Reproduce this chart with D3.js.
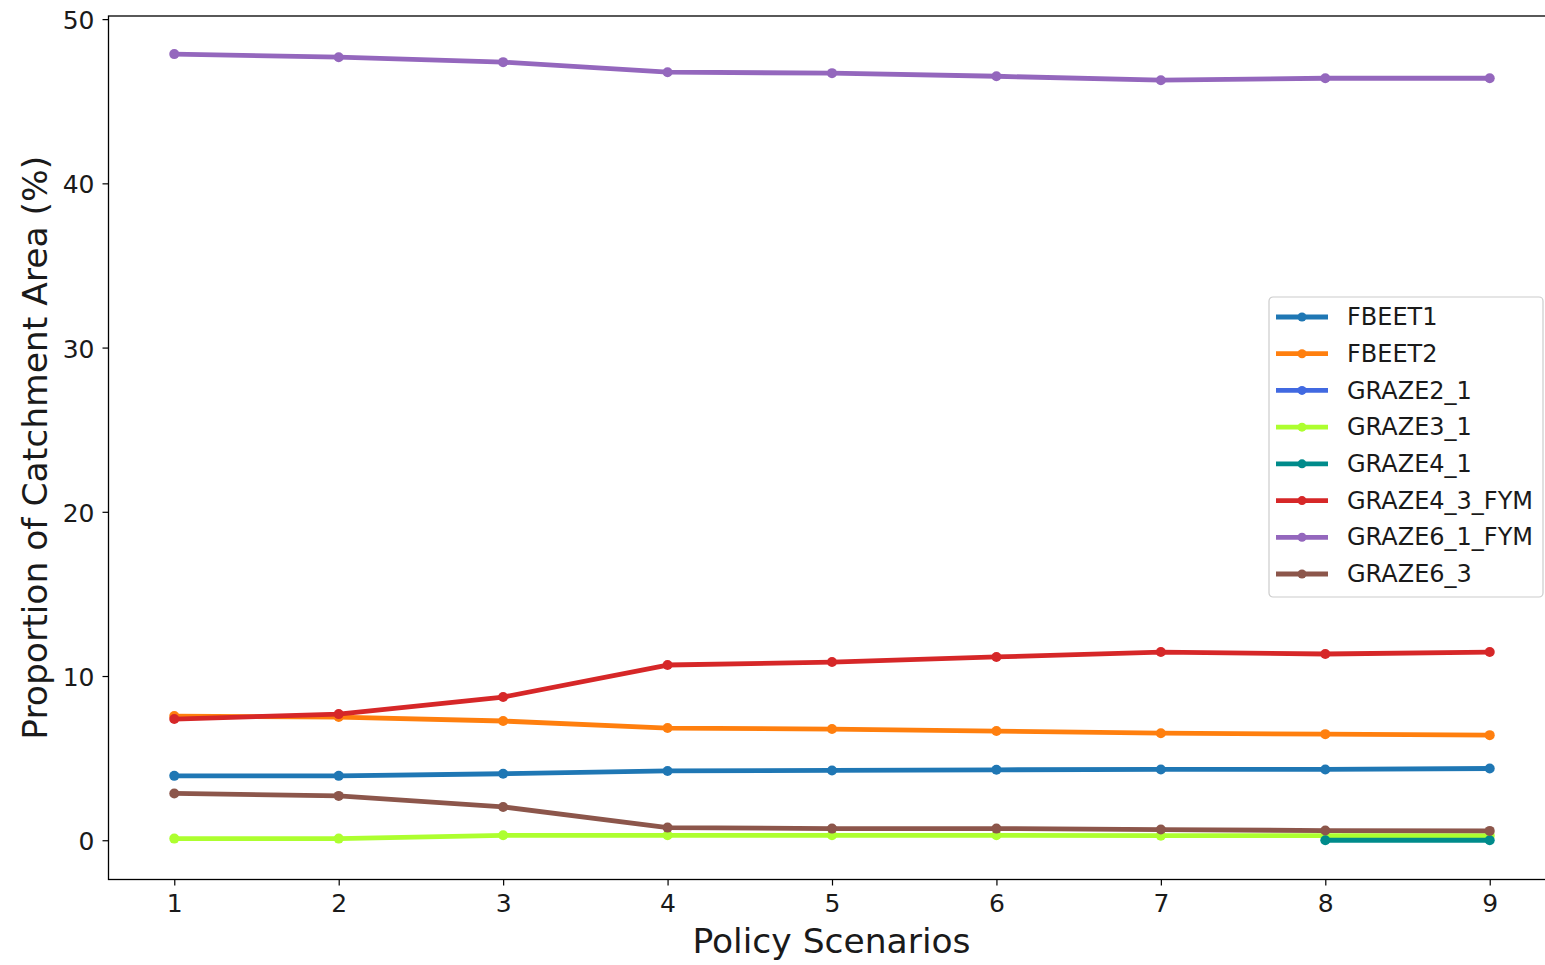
<!DOCTYPE html>
<html>
<head>
<meta charset="utf-8">
<script src="https://cdn.jsdelivr.net/npm/d3@7"></script>
<style>
  html, body { margin: 0; padding: 0; background: #fff; }
  svg { display: block; font-family: "DejaVu Sans", sans-serif; }
</style>
</head>
<body>
<svg id="chart" width="1545" height="965"></svg>
<script>
// Policy scenarios on the x axis
const scenarios = [1, 2, 3, 4, 5, 6, 7, 8, 9];
const xTicks = [1, 2, 3, 4, 5, 6, 7, 8, 9];
const yTicks = [0, 10, 20, 30, 40, 50];

// Share of catchment area (%) per land-use option, one value per scenario
const seriesNames = ["FBEET1", "FBEET2", "GRAZE2_1", "GRAZE3_1", "GRAZE4_1",
                     "GRAZE4_3_FYM", "GRAZE6_1_FYM", "GRAZE6_3"];
const fbeet1      = [3.92, 3.92, 4.05, 4.22, 4.25, 4.29, 4.31, 4.31, 4.37];
const fbeet2      = [7.56, 7.50, 7.26, 6.83, 6.77, 6.65, 6.52, 6.46, 6.40];
const graze2_1    = [null, null, null, null, null, null, null, null, null];
const graze3_1    = [0.10, 0.10, 0.30, 0.30, 0.30, 0.30, 0.28, 0.28, 0.28];
const graze4_1    = [null, null, null, null, null, null, null, 0.0, 0.0];
const graze4_3fym = [7.38, 7.68, 8.72, 10.67, 10.85, 11.16, 11.46, 11.34, 11.46];
const graze6_1fym = [47.87, 47.68, 47.38, 46.77, 46.71, 46.52, 46.28, 46.40, 46.40];
const graze6_3    = [2.85, 2.70, 2.03, 0.77, 0.71, 0.71, 0.65, 0.59, 0.57];

const seriesValues = [fbeet1, fbeet2, graze2_1, graze3_1, graze4_1,
                      graze4_3fym, graze6_1fym, graze6_3];
const seriesColors = ["#1f77b4", "#ff7f0e", "#4169e1", "#adff2f", "#008b8b",
                      "#d62728", "#9467bd", "#8c564b"];

const svg = d3.select("#chart");

// Plot area (the right edge of the frame runs past the page edge)
const plot = { left: 108.5, right: 1555.5, top: 16, bottom: 879.5 };

const x = d3.scaleLinear().domain([0.6, 9.4]).range([plot.left, plot.right]);
const y = d3.scaleLinear().domain([-2.39, 50.19]).range([plot.bottom, plot.top]);

// Axes
const xAxis = d3.axisBottom(x).tickValues(xTicks).tickFormat(d3.format("d"))
  .tickSize(6).tickPadding(6);
const yAxis = d3.axisLeft(y).tickValues(yTicks).tickFormat(d3.format("d"))
  .tickSize(6).tickPadding(8);

const gx = svg.append("g").attr("transform", `translate(0,${plot.bottom})`).call(xAxis);
const gy = svg.append("g").attr("transform", `translate(${plot.left},0)`).call(yAxis);
[gx, gy].forEach(g => {
  g.select(".domain").remove();
  g.selectAll(".tick line").attr("stroke", "#000").attr("stroke-width", 1.2);
  g.selectAll(".tick text").attr("fill", "#1a1a1a").attr("font-size", 25)
    .attr("font-family", "DejaVu Sans, sans-serif");
});
gx.selectAll(".tick text").attr("dy", "0.8em");
gy.selectAll(".tick text").attr("dy", "0.38em");

// Frame
svg.append("rect")
  .attr("x", plot.left).attr("y", plot.top)
  .attr("width", plot.right - plot.left).attr("height", plot.bottom - plot.top)
  .attr("fill", "none").attr("stroke", "#000").attr("stroke-width", 1.3);

// Series lines with markers
const line = d3.line()
  .defined(d => d.v !== null)
  .x(d => x(d.s))
  .y(d => y(d.v));

seriesNames.forEach((name, i) => {
  const pts = scenarios.map((s, j) => ({ s, v: seriesValues[i][j] }));
  const g = svg.append("g").attr("class", "series");
  g.append("path")
    .datum(pts)
    .attr("d", line)
    .attr("fill", "none")
    .attr("stroke", seriesColors[i])
    .attr("stroke-width", 4.8)
    .attr("stroke-linejoin", "round")
    .attr("stroke-linecap", "butt");
  g.selectAll("circle")
    .data(pts.filter(d => d.v !== null))
    .join("circle")
    .attr("cx", d => x(d.s))
    .attr("cy", d => y(d.v))
    .attr("r", 5)
    .attr("fill", seriesColors[i]);
});

// Axis titles
svg.append("text")
  .attr("x", (plot.left + plot.right) / 2 - 0.5).attr("y", 953)
  .attr("text-anchor", "middle")
  .attr("font-size", 34.5).attr("fill", "#1a1a1a")
  .text("Policy Scenarios");

svg.append("text")
  .attr("transform", `translate(47,${(plot.top + plot.bottom) / 2}) rotate(-90)`)
  .attr("text-anchor", "middle")
  .attr("font-size", 34.5).attr("fill", "#1a1a1a")
  .text("Proportion of Catchment Area (%)");

// Legend
const lg = svg.append("g").attr("transform", "translate(1269,297)");
lg.append("rect")
  .attr("x", 0).attr("y", 0).attr("width", 274).attr("height", 300)
  .attr("rx", 4).attr("ry", 4)
  .attr("fill", "#fff").attr("fill-opacity", 0.8)
  .attr("stroke", "#cccccc").attr("stroke-width", 1.2);

const rowY = d3.scaleLinear().domain([0, 7]).range([20, 277]);
seriesNames.forEach((name, i) => {
  const ry = rowY(i);
  lg.append("line")
    .attr("x1", 7).attr("x2", 59).attr("y1", ry).attr("y2", ry)
    .attr("stroke", seriesColors[i]).attr("stroke-width", 4.8);
  lg.append("circle")
    .attr("cx", 33).attr("cy", ry).attr("r", 4.5)
    .attr("fill", seriesColors[i]);
  lg.append("text")
    .attr("x", 78).attr("y", ry).attr("dy", "0.34em")
    .attr("font-size", 24).attr("fill", "#1a1a1a")
    .text(name);
});
</script>
</body>
</html>
